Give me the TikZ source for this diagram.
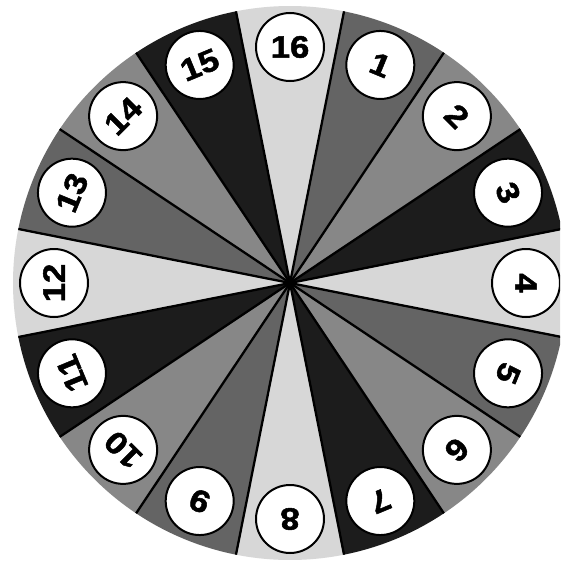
\documentclass[tikz,border=0pt]{standalone}
\usepackage{fontspec}
\newfontfamily\numfont[FakeStretch=1.12,FakeBold=1.6]{Liberation Sans}
\usetikzlibrary{calc}
\definecolor{seglight}{HTML}{D7D7D7}
\definecolor{segdark}{HTML}{646464}
\definecolor{segmid}{HTML}{878787}
\definecolor{segblack}{HTML}{1C1C1C}
\tikzset{
  numdisc/.style={circle, draw=black, line width=2pt, fill=white, minimum size=68pt, inner sep=0pt,
    font=\numfont\bfseries\fontsize{31}{31}\selectfont},
  divider/.style={draw=black, line width=2.3pt}
}
\begin{document}
\begin{tikzpicture}[x=1pt,y=1pt]
\useasboundingbox (0,-562) rectangle (560,0);
\fill[white] (0,-562) rectangle (560,0);
\clip (0,-562) rectangle (560,0);
\coordinate (c) at (290,-283);
\foreach \k in {1,...,16} {
  \pgfmathsetmacro{\a}{90-22.5*\k}
  \pgfmathtruncatemacro{\m}{mod(\k,4)}
  \ifcase\m
    \def\col{seglight}\or\def\col{segdark}\or\def\col{segmid}\or\def\col{segblack}\fi
  \fill[\col] (c) -- ++(\a-11.25:277) arc[start angle=\a-11.25, end angle=\a+11.25, radius=277] -- cycle;
}
\foreach \k in {1,...,16} {
  \pgfmathsetmacro{\a}{90-22.5*\k+11.25}
  \coordinate (e\k) at ($(c)+(\a:277)$);
  \draw[divider] (c) -- (e\k);
}
\fill[black] (c) circle[radius=4.5];
\foreach \k in {1,...,16} {
  \pgfmathsetmacro{\a}{90-22.5*\k}
  \node[numdisc, rotate=\a-90] (n\k) at ($(c)+(\a:236)$) {\k};
}
\end{tikzpicture}
\end{document}
